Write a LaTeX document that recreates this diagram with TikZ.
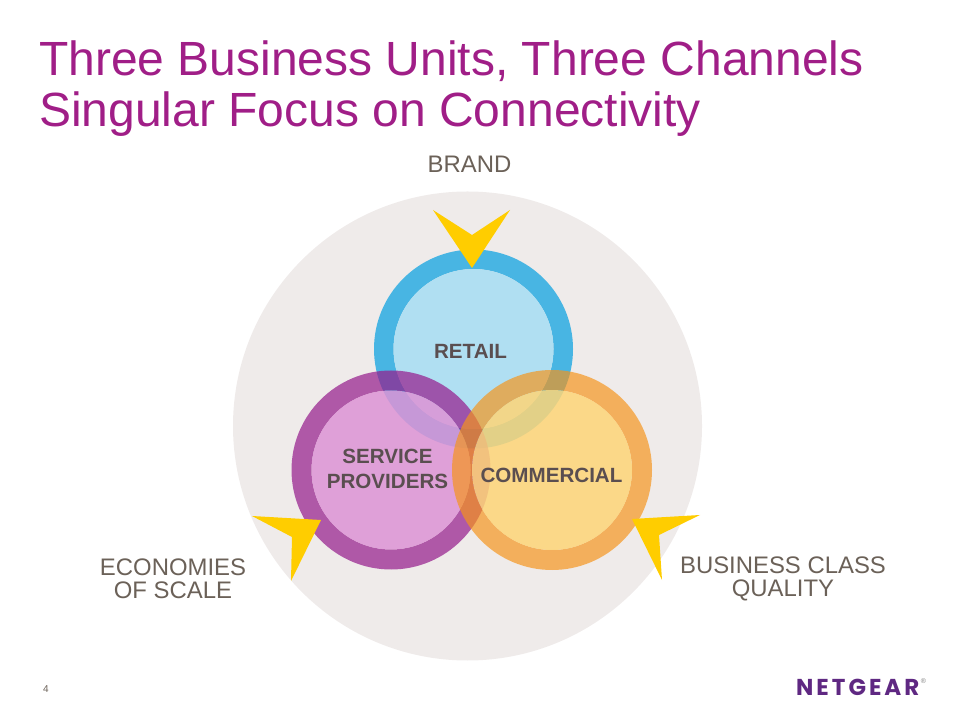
\documentclass[tikz,border=0pt]{standalone}
\usepackage{fontspec}
\setmainfont{Liberation Sans}
\newfontfamily\logofont[LetterSpace=13]{Poppins}
\usetikzlibrary{positioning}
\begin{document}
\begin{tikzpicture}[x=1pt,y=1pt]
    % Define styles
    \tikzstyle{title_text}=[anchor=base west, inner sep=0pt, color=title_col, font=\fontsize{48}{48}\selectfont]
    \tikzstyle{outer_label}=[align=center, inner sep=0pt, color=label_col, font=\fontsize{23.9}{23.5}\selectfont]
    \tikzstyle{unit_label}=[align=center, inner sep=0pt, color=unit_col, font=\fontsize{20.6}{25}\selectfont\bfseries]
    \tikzstyle{pointer}=[fill=pointer_col]
    \definecolor{title_col}{RGB}{160,30,135}
    \definecolor{label_col}{RGB}{107,97,88}
    \definecolor{unit_col}{RGB}{90,78,80}
    \definecolor{back_col}{RGB}{239,235,234}
    \definecolor{pointer_col}{RGB}{255,205,0}
    \definecolor{logo_col}{RGB}{95,40,130}
    \definecolor{blue_ring}{RGB}{72,181,227}
    \definecolor{blue_disc}{RGB}{176,223,242}
    \definecolor{purple_ring}{RGB}{150,28,141}
    \definecolor{purple_disc}{RGB}{221,147,213}
    \definecolor{orange_ring}{RGB}{246,148,25}
    \definecolor{orange_disc}{RGB}{254,213,119}

    % page size
    \useasboundingbox (0,0) rectangle (960,720);

    % --- 1. Title ---
    \node[title_text] (title_one) at (39,644) {Three Business Units, Three Channels};
    \node[title_text] (title_two) at (39,593) {Singular Focus on Connectivity};

    % --- 2. Background circle ---
    \fill[back_col] (467.5,294) circle (234.5);

    % --- 3. The three units (ring + disc) ---
    % Retail
    \fill[blue_ring, even odd rule] (473.5,371) circle (99.5) circle (80);
    \fill[blue_disc] (473.5,371) circle (80);
    % Service providers
    \fill[purple_ring, opacity=0.71, even odd rule] (391,250) circle (99.5) circle (79.5);
    \fill[purple_disc, opacity=0.85] (391,250) circle (79.5);
    % Commercial
    \fill[orange_ring, opacity=0.68, even odd rule] (552,250) circle (100) circle (80);
    \fill[orange_disc, opacity=0.85] (552,250) circle (80);

    % --- 4. Yellow pointers ---
    \fill[pointer] (433,510) -- (472,485) -- (510,510) -- (472,452) -- cycle;
    \fill[pointer] (252,204) -- (321,200) -- (291,139) -- (292,183) -- cycle;
    \fill[pointer] (700,205) -- (632,201) -- (662,140) -- (659,185) -- cycle;

    % --- 5. Labels ---
    \node[unit_label] (retail) at (470.5,369) {RETAIL};
    \node[unit_label] (service) at (387.5,251) {SERVICE\\PROVIDERS};
    \node[unit_label] (commercial) at (551.5,245) {COMMERCIAL};
    \node[outer_label] (brand) at (469.5,556) {BRAND};
    \node[outer_label] (economies) at (173,141) {ECONOMIES\\OF SCALE};
    \node[outer_label] (quality) at (783,141) {BUSINESS CLASS\\QUALITY};

    % --- 6. Footer ---
    \node[inner sep=0pt, color=label_col, font=\fontsize{10}{10}\selectfont] (page) at (46,31) {4};
    \node[inner sep=0pt, anchor=base west, color=logo_col, font=\fontsize{23}{23}\selectfont\logofont\bfseries] (logo) at (796,25) {NETGEAR};
    \node[inner sep=0pt, color=gray, font=\fontsize{7}{7}\selectfont, right=1pt of logo.north east, yshift=-3pt] (reg) {®};
\end{tikzpicture}
\end{document}
